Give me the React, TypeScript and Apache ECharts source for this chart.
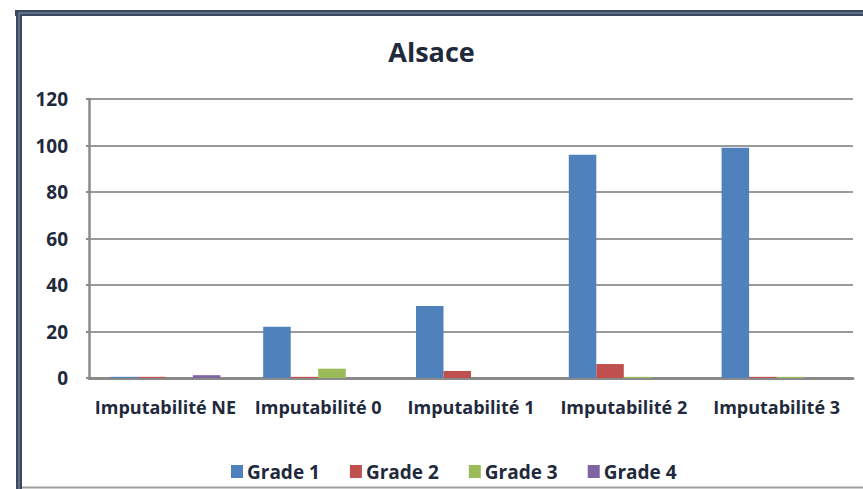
import React, { useEffect, useRef } from "react";
import * as echarts from "echarts";

const categories = ["Imputabilité NE", "Imputabilité 0", "Imputabilité 1", "Imputabilité 2", "Imputabilité 3"];
const seriesNames = ["Grade 1", "Grade 2", "Grade 3", "Grade 4"];
const grade1 = [0.5, 22, 31, 96, 99];
const grade2 = [0.5, 0.5, 3, 6, 0.5];
const grade3 = [0, 4, 0, 0.5, 0.5];
const grade4 = [1.2, 0, 0, 0, 0];
const yTicks = { min: 0, max: 120, interval: 20 };
const colors = ["#4F81BD", "#C0504D", "#9BBB59", "#8064A2"];

const FONT = "'Open Sans', sans-serif";
const TEXT = "#1f2a3c";

export default function App() {
  const ref = useRef<HTMLDivElement>(null);
  useEffect(() => {
    if (!ref.current) return;
    const chart = echarts.init(ref.current, undefined, { renderer: "svg" });
    const data = [grade1, grade2, grade3, grade4];
    chart.setOption({
      animation: false,
      backgroundColor: "#ffffff",
      title: {
        text: "Alsace",
        left: "center",
        top: 29,
        textStyle: { fontFamily: FONT, fontWeight: "bold", fontSize: 27, color: TEXT, lineHeight: 34 },
      },
      legend: {
        data: seriesNames,
        top: 457,
        left: 226,
        itemWidth: 12,
        itemHeight: 13,
        itemGap: 30,
        icon: "rect",
        textStyle: { fontFamily: FONT, fontWeight: "bold", fontSize: 19, color: TEXT, padding: [0, 0, 0, -1] },
      },
      grid: { left: 89, right: 10, top: 99, bottom: 111, containLabel: false },
      xAxis: {
        type: "category",
        data: categories,
        axisLine: { lineStyle: { color: "#8a8a8a", width: 3 } },
        axisTick: { show: false },
        axisLabel: { fontFamily: FONT, fontWeight: "bold", fontSize: 18, color: TEXT, margin: 20, interval: 0, hideOverlap: false },
      },
      yAxis: {
        type: "value",
        min: yTicks.min,
        max: yTicks.max,
        interval: yTicks.interval,
        axisLine: { show: true, lineStyle: { color: "#8a8a8a", width: 2.5 } },
        axisTick: { show: true, length: 3, lineStyle: { color: "#8a8a8a", width: 2 } },
        splitLine: { lineStyle: { color: "#9a9a9a", width: 2 } },
        axisLabel: { fontFamily: FONT, fontWeight: "bold", fontSize: 19, color: TEXT, margin: 21 },
      },
      series: seriesNames.map((name, i) => ({
        name,
        type: "bar",
        data: data[i],
        barGap: "0%",
        barCategoryGap: "28%",
        itemStyle: { color: colors[i] },
      })),
      graphic: [
        { type: "line", shape: { x1: 15, y1: 13, x2: 863, y2: 13 }, style: { stroke: "#3a4a60", lineWidth: 6 }, silent: true },
        { type: "line", shape: { x1: 19, y1: 10, x2: 19, y2: 489 }, style: { stroke: "#3a4a60", lineWidth: 6 }, silent: true },
        { type: "line", shape: { x1: 19, y1: 13, x2: 863, y2: 13 }, style: { stroke: "#8795a8", lineWidth: 1 }, silent: true },
        { type: "line", shape: { x1: 19, y1: 13, x2: 19, y2: 489 }, style: { stroke: "#8795a8", lineWidth: 1 }, silent: true },
        { type: "line", shape: { x1: 22, y1: 487.5, x2: 863, y2: 487.5 }, style: { stroke: "#a0a0a0", lineWidth: 2 }, silent: true },
      ],
    });
    return () => chart.dispose();
  }, []);
  return <div ref={ref} style={{ position: "absolute", left: 0, top: 0, width: 863, height: 489 }} />;
}
